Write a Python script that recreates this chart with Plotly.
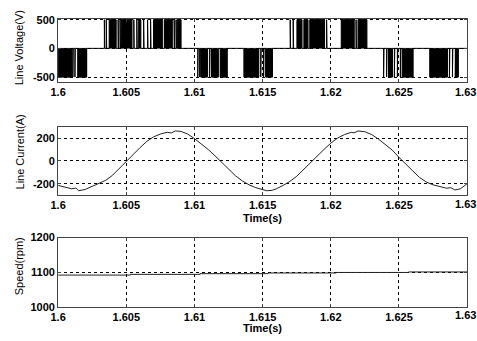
import plotly.graph_objects as go

# ---------------- data ----------------
x_ticks = [1.6, 1.605, 1.61, 1.615, 1.62, 1.625, 1.63]
x_tick_text = ["1.6", "1.605", "1.61", "1.615", "1.62", "1.625", "1.63"]

v_level = 500
pos_blocks = [(1.60375, 1.60425), (1.60462, 1.60541), (1.60591, 1.60606),
              (1.60700, 1.60764), (1.60779, 1.60837), (1.60873, 1.60901),
              (1.61752, 1.61788), (1.61803, 1.61832), (1.61846, 1.61954),
              (1.62077, 1.62171), (1.62200, 1.62264)]
pos_pulses = [1.60339, 1.60353, 1.60440, 1.60454, 1.60555, 1.60577, 1.60627,
              1.60656, 1.60678, 1.60851, 1.60865, 1.61702, 1.61724, 1.61969,
              1.62185]
neg_blocks = [(1.60000, 1.60029), (1.60032, 1.60101), (1.60144, 1.60209),
              (1.61046, 1.61096), (1.61125, 1.61175), (1.61189, 1.61240),
              (1.61363, 1.61471), (1.61522, 1.61572), (1.62423, 1.62452),
              (1.62524, 1.62603), (1.62726, 1.62856), (1.62921, 1.62935)]
neg_pulses = [1.60108, 1.60123, 1.61024, 1.61038, 1.61111, 1.61486, 1.61507,
              1.62387, 1.62409, 1.62466, 1.62488, 1.62510, 1.62870, 1.62892,
              1.62913]

i_time = [1.6000, 1.6005, 1.6010, 1.6013, 1.6015, 1.6020, 1.6025, 1.6030,
          1.6035, 1.6040, 1.6045, 1.6050, 1.6055, 1.6060, 1.6065, 1.6070,
          1.6075, 1.6080, 1.6083, 1.6086, 1.6090, 1.6095, 1.6100, 1.6105,
          1.6110, 1.6115, 1.6120, 1.6125, 1.6130, 1.6135, 1.6140, 1.6145,
          1.6150, 1.6153, 1.6157, 1.6160, 1.6165, 1.6170, 1.6175, 1.6180,
          1.6185, 1.6190, 1.6195, 1.6200, 1.6205, 1.6210, 1.6215, 1.6217,
          1.6220, 1.6225, 1.6230, 1.6235, 1.6240, 1.6245, 1.6250, 1.6255,
          1.6260, 1.6265, 1.6270, 1.6275, 1.6280, 1.6285, 1.6288, 1.6291,
          1.6295, 1.6300]
i_value = [-215, -230, -245, -238, -262, -250, -225, -195,
           -170, -125, -65, 0, 55, 115, 170, 210,
           235, 250, 244, 262, 258, 235, 195, 150,
           100, 45, -15, -75, -130, -175, -210, -235,
           -250, -262, -258, -245, -215, -180, -135, -75,
           -15, 45, 100, 155, 200, 230, 250, 245,
           262, 255, 230, 190, 145, 95, 30, -30,
           -90, -145, -185, -210, -225, -240, -235, -255,
           -245, -200]

spd_time = [1.6, 1.6053, 1.6104, 1.6154, 1.6204, 1.6257, 1.63]
spd_value = [1092, 1094, 1096, 1098, 1099.5, 1101, 1101]

# ---------------- build voltage waveform ----------------
pulse_w = 0.00003
intervals = [(s, e, v_level) for s, e in pos_blocks] + \
            [(t, t + pulse_w, v_level) for t in pos_pulses] + \
            [(s, e, -v_level) for s, e in neg_blocks] + \
            [(t, t + pulse_w, -v_level) for t in neg_pulses]
intervals.sort()
vx, vy = [1.6], [0]
for s, e, lv in intervals:
    vx += [s, s, e, e]
    vy += [0, lv, lv, 0]
vx.append(1.63)
vy.append(0)

fx, fy = [], []
for s, e in pos_blocks:
    fx += [s, s, e, e, s, None]
    fy += [0, v_level, v_level, 0, 0, None]
for s, e in neg_blocks:
    fx += [s, s, e, e, s, None]
    fy += [0, -v_level, -v_level, 0, 0, None]

# ---------------- figure ----------------
fig = go.Figure()
fig.add_trace(go.Scatter(x=fx, y=fy, fill="toself", fillcolor="black",
                         line=dict(color="black", width=0.5), mode="lines",
                         xaxis="x", yaxis="y", hoverinfo="skip"))
fig.add_trace(go.Scatter(x=vx, y=vy, mode="lines",
                         line=dict(color="black", width=1),
                         xaxis="x", yaxis="y"))
fig.add_trace(go.Scatter(x=i_time, y=i_value, mode="lines",
                         line=dict(color="#222", width=1),
                         xaxis="x2", yaxis="y2"))
fig.add_trace(go.Scatter(x=spd_time, y=spd_value, mode="lines",
                         line=dict(color="#222", width=1, shape="hv"),
                         xaxis="x3", yaxis="y3"))

W, H = 477, 341
xl, xr = 51 / W, 467 / W


def ydom(top, bot):
    return [1 - bot / H, 1 - top / H]


def bold(lst):
    return ["<b>%s</b>" % s for s in lst]


tickfont = dict(family="Arial", size=11, color="black")
common_x = dict(range=[1.6, 1.63], tickvals=x_ticks, ticktext=bold(x_tick_text),
                showgrid=True, gridcolor="black", griddash="3px,3px",
                gridwidth=1, zeroline=False, showline=True, mirror="ticks",
                linecolor="#444", linewidth=1, ticks="inside", ticklen=3,
                tickcolor="#444", tickfont=tickfont, domain=[xl, xr])
common_y = dict(showgrid=True, gridcolor="black", griddash="3px,3px",
                gridwidth=1, zeroline=False, showline=True, mirror="ticks",
                linecolor="#444", linewidth=1, ticks="inside", ticklen=3,
                tickcolor="#444", tickfont=tickfont)

fig.update_layout(
    width=W, height=H, margin=dict(l=0, r=0, t=0, b=0),
    paper_bgcolor="white", plot_bgcolor="white", showlegend=False,
    xaxis=dict(common_x, anchor="y"),
    xaxis2=dict(common_x, anchor="y2"),
    xaxis3=dict(common_x, anchor="y3"),
    yaxis=dict(common_y, anchor="x", domain=ydom(13, 79), range=[-590, 520],
               tickvals=[-500, 0, 500], ticktext=bold(["-500", "0", "500"])),
    yaxis2=dict(common_y, anchor="x2", domain=ydom(125, 196), range=[-300, 300],
                tickvals=[-200, 0, 200], ticktext=bold(["-200", "0", "200"])),
    yaxis3=dict(common_y, anchor="x3", domain=ydom(240, 312), range=[1000, 1200],
                tickvals=[1000, 1100, 1200], ticktext=bold(["1000", "1100", "1200"])),
)

# last x tick label sits against the right edge of the page (clipped in the original)
for yc in [89, 205, 320]:
    fig.add_annotation(text=bold([x_tick_text[-1]])[0], x=1.0, y=1 - yc / H,
                       xref="paper", yref="paper", showarrow=False,
                       font=tickfont, xanchor="right", yanchor="middle",
                       xshift=1)

title_font = dict(family="Arial", size=11, color="black")
for text, yc in [("Line Voltage(V)", 43), ("Line Current(A)", 151), ("Speed(rpm)", 270)]:
    fig.add_annotation(text=text, x=12 / W, y=1 - yc / H, xref="paper", yref="paper",
                       textangle=-90, showarrow=False, font=title_font,
                       xanchor="center", yanchor="middle")
for yc in [220, 334]:
    fig.add_annotation(text="<b>Time(s)</b>", x=259 / W, y=1 - yc / H, xref="paper",
                       yref="paper", showarrow=False,
                       font=dict(family="Arial", size=11, color="black"),
                       xanchor="center", yanchor="middle")

fig.write_html("out.html")
